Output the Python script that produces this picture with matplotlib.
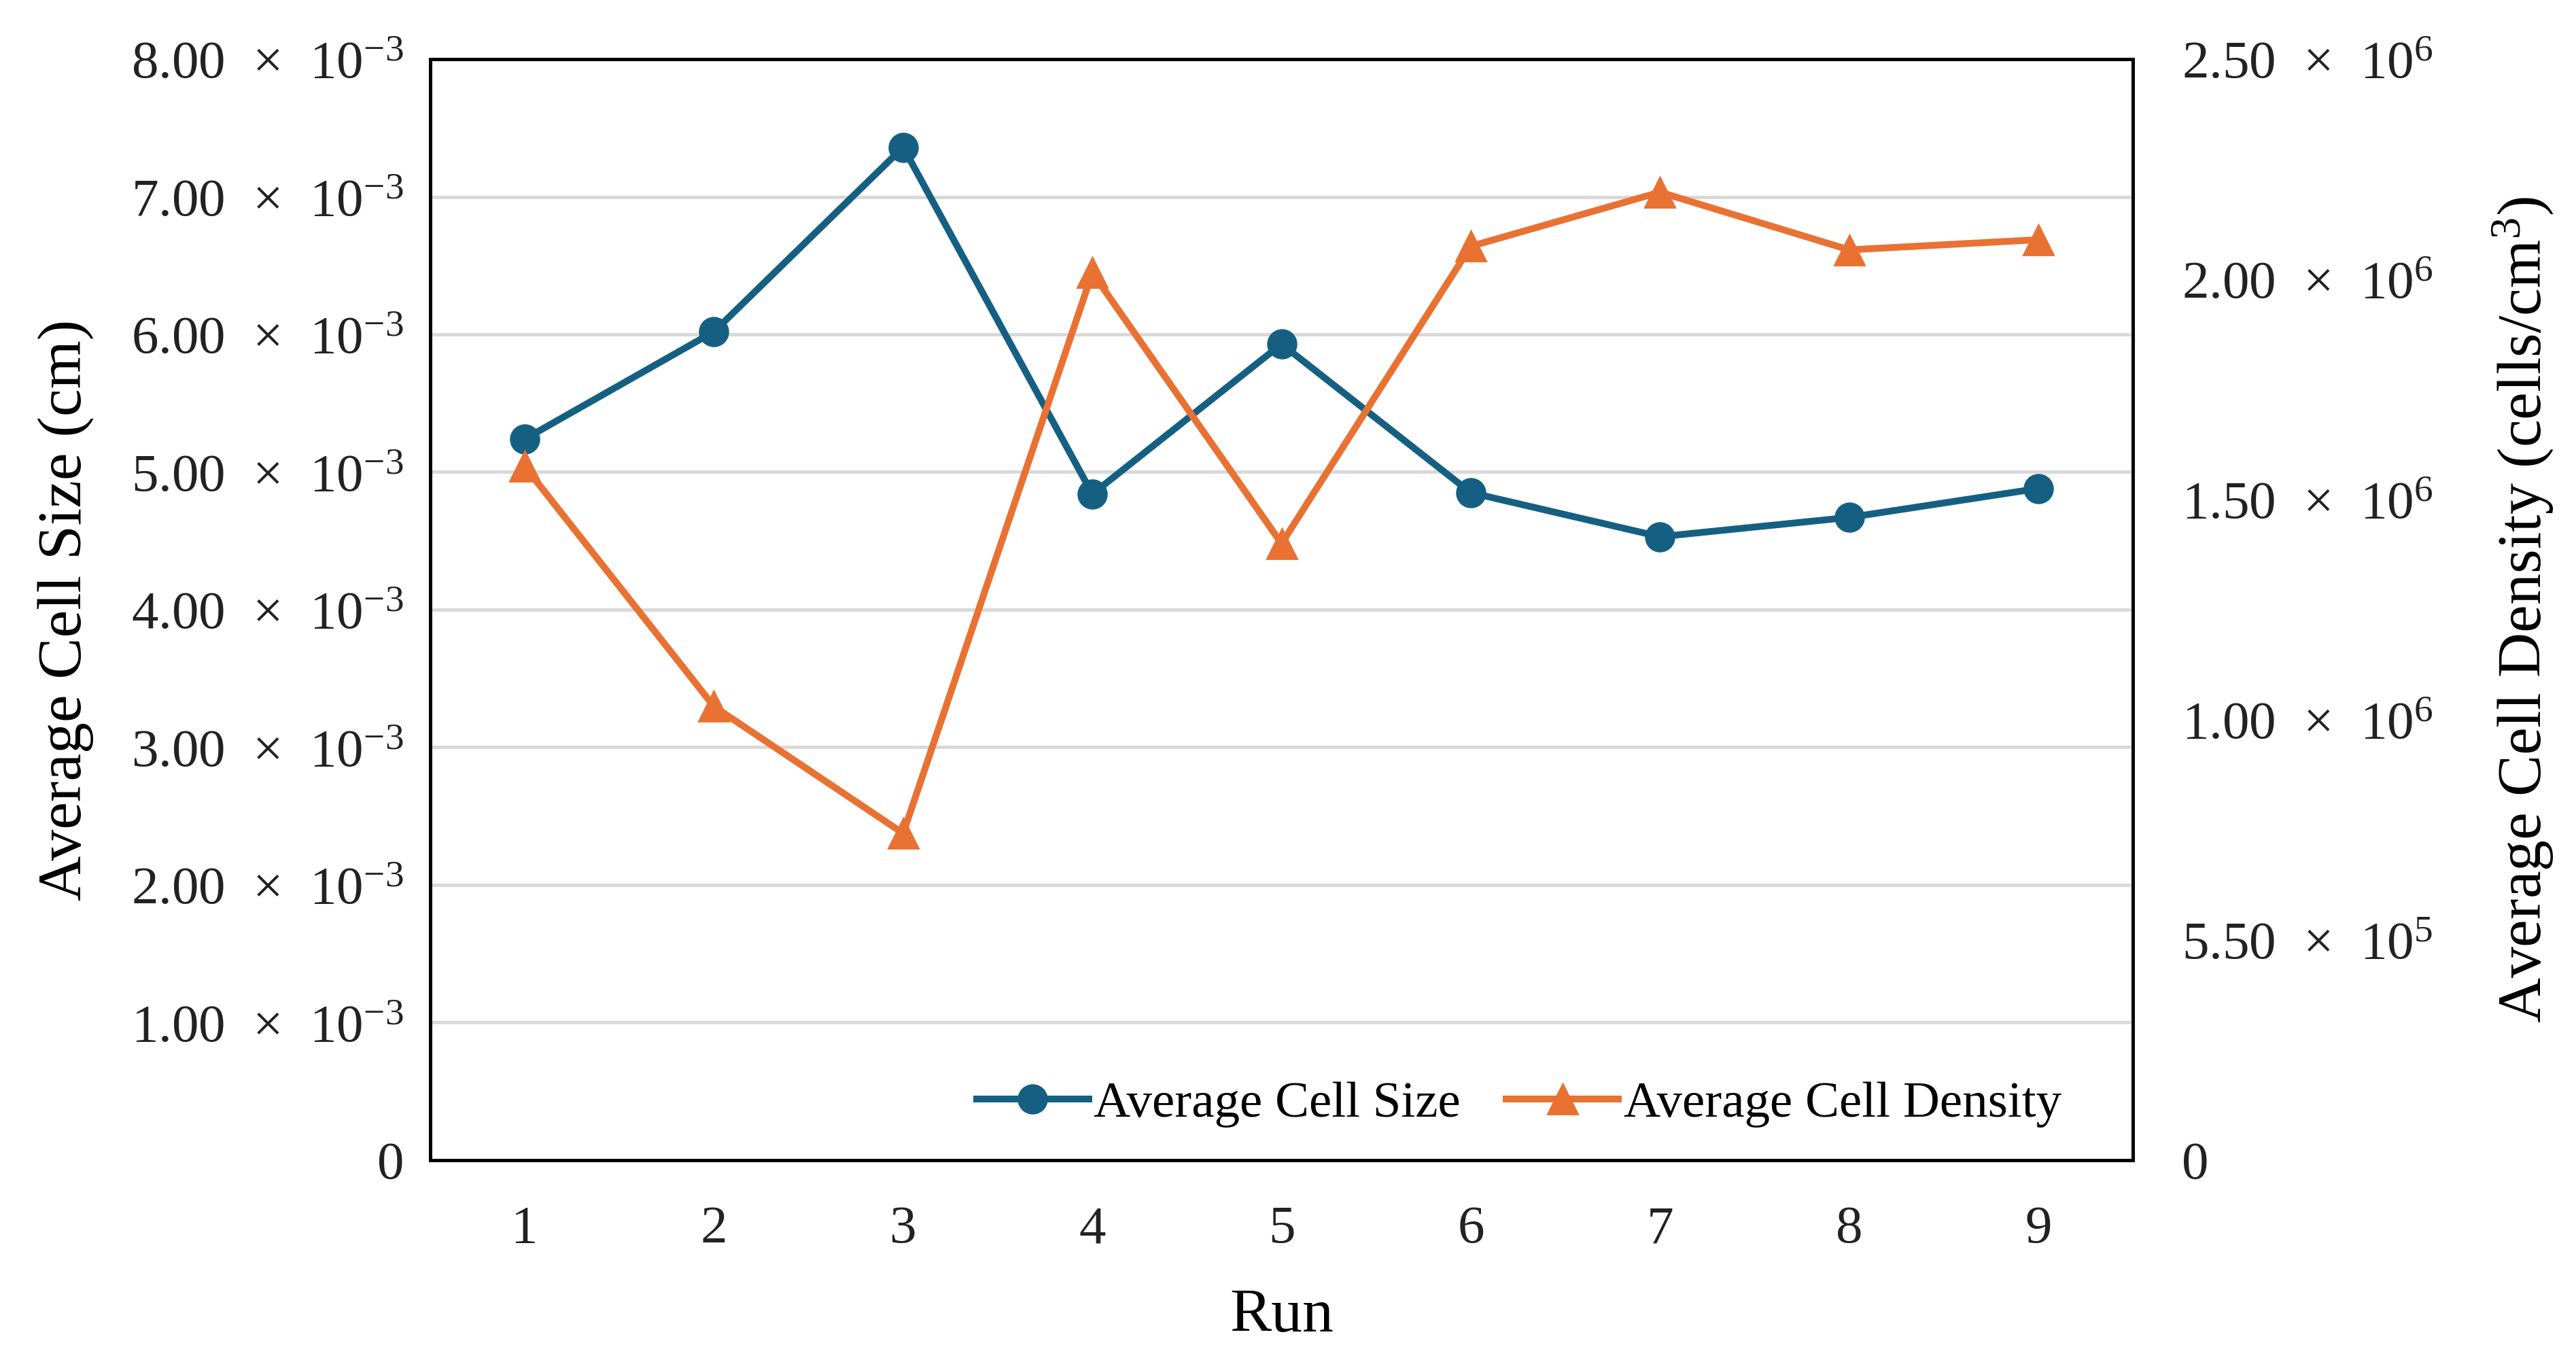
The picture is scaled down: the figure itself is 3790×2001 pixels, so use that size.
import matplotlib

matplotlib.use("Agg")
import matplotlib.pyplot as plt
from matplotlib.ticker import FixedLocator, FixedFormatter

plt.rcParams["font.family"] = ["Liberation Serif", "DejaVu Serif"]
plt.rcParams["mathtext.fontset"] = "custom"
plt.rcParams["mathtext.rm"] = "Liberation Serif"
plt.rcParams["mathtext.it"] = "Liberation Serif:italic"

# data
runs = [1, 2, 3, 4, 5, 6, 7, 8, 9]
cell_size = [5.24e-3, 6.02e-3, 7.36e-3, 4.84e-3, 5.93e-3, 4.85e-3, 4.53e-3, 4.67e-3, 4.88e-3]
cell_density = [1.575e6, 1.03e6, 0.742e6, 2.015e6, 1.40e6, 2.075e6, 2.198e6, 2.067e6, 2.09e6]

left_ticks = [0, 1e-3, 2e-3, 3e-3, 4e-3, 5e-3, 6e-3, 7e-3, 8e-3]
left_labels = ["0"] + [f"{v:.2f}  \u00d7  10$^{{\\mathrm{{-3}}}}$" for v in range(1, 9)]
right_ticks = [0, 0.5e6, 1.0e6, 1.5e6, 2.0e6, 2.5e6]
right_labels = ["0", "5.50  \u00d7  10$^{5}$", "1.00  \u00d7  10$^{6}$", "1.50  \u00d7  10$^{6}$",
                "2.00  \u00d7  10$^{6}$", "2.50  \u00d7  10$^{6}$"]

BLUE = "#156082"
ORANGE = "#E97132"

fig = plt.figure(figsize=(18.95, 10.005), dpi=200, facecolor="white")
ax = fig.add_axes([0.167, 0.147, 0.661, 0.8095])
ax2 = ax.twinx()

ax.set_xlim(0.5, 9.5)
ax.set_ylim(0, 8e-3)
ax2.set_ylim(0, 2.5e6)

ax.yaxis.set_major_locator(FixedLocator(left_ticks))
ax.yaxis.set_major_formatter(FixedFormatter(left_labels))
ax2.yaxis.set_major_locator(FixedLocator(right_ticks))
ax2.yaxis.set_major_formatter(FixedFormatter(right_labels))
ax.set_xticks(runs)

ax.grid(axis="y", color="#D9D9D9", linewidth=1.8, zorder=0)
ax.set_axisbelow(True)

(l1,) = ax.plot(runs, cell_size, color=BLUE, linewidth=3.6, marker="o", markersize=15,
                label="Average Cell Size", zorder=3)
(l2,) = ax2.plot(runs, cell_density, color=ORANGE, linewidth=3.6, marker="^", markersize=16,
                 label="Average Cell Density", zorder=3)

for a in (ax, ax2):
    for s in a.spines.values():
        s.set_linewidth(1.8)
        s.set_color("black")
    a.tick_params(length=0, labelsize=28.5, colors="#222222")
ax.tick_params(axis="y", pad=14)
ax2.tick_params(axis="y", pad=26)
ax.tick_params(axis="x", pad=24)

ax.set_xlabel("Run", fontsize=33, labelpad=18)
ax.set_ylabel("Average Cell Size (cm)", fontsize=33, labelpad=20)
ax2.set_ylabel("Average Cell Density (cells/cm$^{3}$)", fontsize=33, labelpad=30)

ax.legend(handles=[l1, l2], loc="lower right", bbox_to_anchor=(0.985, -0.012), ncol=2,
          frameon=False, fontsize=27, handlelength=2.2, handletextpad=0.1,
          columnspacing=0.9)

fig.savefig("out.png", dpi=200, facecolor="white")
